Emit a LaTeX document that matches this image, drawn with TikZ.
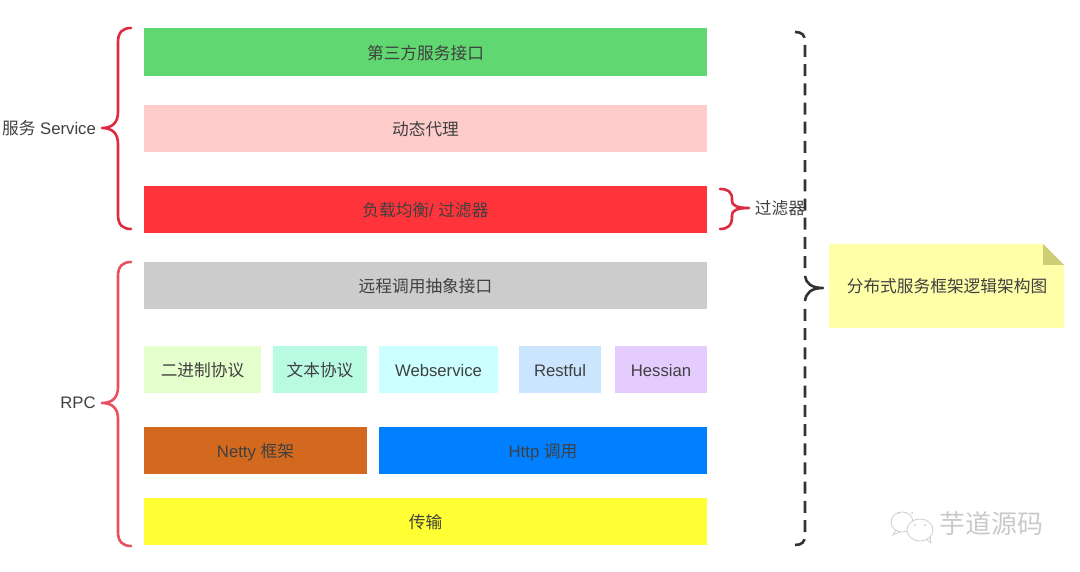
\documentclass[tikz,border=0pt]{standalone}
\usepackage{fontspec}
\setmainfont{Liberation Sans}
\newfontfamily\cjk{Noto Sans CJK SC}
\definecolor{txtgray}{HTML}{404040}
\definecolor{bracered}{HTML}{DC2B40}
\definecolor{rpcred}{HTML}{E8505F}
\definecolor{dashgray}{HTML}{333333}
\definecolor{notefill}{HTML}{FFFFAA}
\definecolor{notefold}{HTML}{CDCD78}
\definecolor{markgray}{HTML}{CACACA}
\tikzset{
  label/.style={inner sep=0pt,outer sep=0pt,text=txtgray,font=\fontsize{16.7}{20}\selectfont},
  layer/.style={label,text height=15pt,text depth=0.4pt},
  brace/.style={line width=2.6pt,line cap=round,line join=round},
}
\begin{document}
\begin{tikzpicture}[x=1pt,y=-1pt]
  \useasboundingbox (0,0) rectangle (1080,572);

  %service layers
  \node[layer,fill={rgb,255:red,96;green,215;blue,112},minimum width=563pt,minimum height=48pt] (third) at (425.5,52) {{\cjk 第三方服务接口}};
  \node[layer,fill={rgb,255:red,255;green,204;blue,204},minimum width=563pt,minimum height=47pt] (proxy) at (425.5,128.5) {{\cjk 动态代理}};
  \node[layer,fill={rgb,255:red,255;green,51;blue,58},minimum width=563pt,minimum height=47pt] (balance) at (425.5,209.5) {{\cjk 负载均衡}/ {\cjk 过滤器}};

  %rpc layers
  \node[layer,fill={rgb,255:red,204;green,204;blue,204},minimum width=563pt,minimum height=47pt] (remote) at (425.5,285.5) {{\cjk 远程调用抽象接口}};
  \node[layer,fill={rgb,255:red,229;green,255;blue,204},minimum width=117pt,minimum height=47pt] (binary) at (202.5,369.5) {{\cjk 二进制协议}};
  \node[layer,fill={rgb,255:red,184;green,250;blue,226},minimum width=94pt,minimum height=47pt] (plain) at (320,369.5) {{\cjk 文本协议}};
  \node[layer,fill={rgb,255:red,204;green,255;blue,255},minimum width=119pt,minimum height=47pt] (webservice) at (438.5,369.5) {Webservice};
  \node[layer,fill={rgb,255:red,204;green,229;blue,255},minimum width=82pt,minimum height=47pt] (restful) at (560,369.5) {Restful};
  \node[layer,fill={rgb,255:red,229;green,204;blue,255},minimum width=92pt,minimum height=47pt] (hessian) at (661,369.5) {Hessian};
  \node[layer,fill={rgb,255:red,210;green,105;blue,30},minimum width=223pt,minimum height=47pt] (netty) at (255.5,450.5) {Netty {\cjk 框架}};
  \node[layer,fill={rgb,255:red,0;green,127;blue,255},minimum width=328pt,minimum height=47pt] (http) at (543,450.5) {Http {\cjk 调用}};
  \node[layer,fill={rgb,255:red,255;green,255;blue,51},minimum width=563pt,minimum height=47pt] (transport) at (425.5,521.5) {{\cjk 传输}};

  %left braces
  \draw[brace,bracered] (131,28) .. controls (123,28) and (118,32) .. (118,42) -- (118,112)
    .. controls (118,122) and (113,128) .. (102,128) .. controls (113,128) and (118,134) .. (118,144)
    -- (118,215) .. controls (118,225) and (123,229) .. (131,229);
  \draw[brace,rpcred] (131,262) .. controls (123,262) and (118,266) .. (118,276) -- (118,387)
    .. controls (118,397) and (113,403) .. (102,403) .. controls (113,403) and (118,409) .. (118,419)
    -- (118,532) .. controls (118,542) and (123,546) .. (131,546);
  \node[label] (service) at (49,128) {{\cjk 服务} Service};
  \node[label] (rpc) at (78,403) {RPC};

  %filter brace
  \draw[brace,bracered] (720,189) .. controls (728,189) and (732,192) .. (732,199) -- (732,201)
    .. controls (732,205) and (736,208) .. (749,208) .. controls (736,208) and (732,211) .. (732,215) -- (732,218)
    .. controls (732,225) and (728,229) .. (720,229);
  \node[label] (filter) at (780,208) {{\cjk 过滤器}};

  %whole framework brace
  \draw[brace,dashgray,dash pattern=on 12pt off 7.2pt,line cap=butt] (795,32) .. controls (802,32) and (805,35) .. (805,42) -- (805,268.4);
  \draw[brace,dashgray,line cap=butt] (805,276) .. controls (806,283) and (811,288) .. (823,288) .. controls (811,288) and (806,293) .. (805,301);
  \draw[brace,dashgray,dash pattern=on 12pt off 7.2pt,line cap=butt] (795,545) .. controls (802,545) and (805,542) .. (805,535) -- (805,308.6);

  %note
  \fill[notefill] (829,244) -- (1043,244) -- (1064,265) -- (1064,328) -- (829,328) -- cycle;
  \fill[notefold] (1043,244) -- (1064,265) -- (1043,265) -- cycle;
  \node[label] (note) at (947,286) {{\cjk 分布式服务框架逻辑架构图}};

  %watermark
  \draw[markgray,fill=white,line width=0.7pt] (896,530) -- (893,535) -- (902,531);
  \draw[markgray,fill=white,line width=0.7pt] (902,522) ellipse (11pt and 10pt);
  \draw[markgray,fill=white,line width=0.7pt] (926,539) -- (931,543) -- (930,536);
  \draw[markgray,fill=white,line width=0.7pt] (920,530) ellipse (13pt and 11pt);
  \foreach \x/\y in {899/513,912/513,915/525,925/525} {
    \fill[markgray] (\x,\y) circle (1pt);
  }
  \node[inner sep=0pt,text=markgray,font=\fontsize{26}{30}\selectfont] (mark) at (991.5,524) {{\cjk 芋道源码}};
\end{tikzpicture}
\end{document}
